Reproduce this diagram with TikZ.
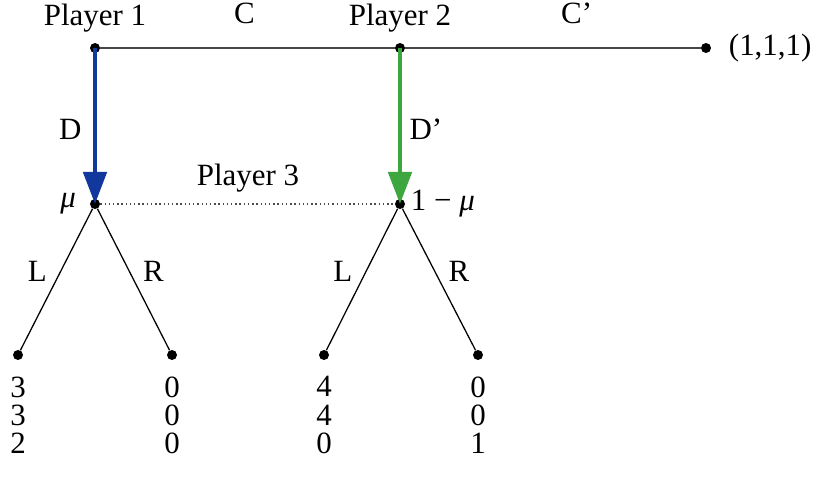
\documentclass[tikz,border=0pt]{standalone}
\usepackage{fontspec}
\setmainfont{Liberation Serif}
\usetikzlibrary{arrows.meta,positioning}
\definecolor{MoveBlue}{RGB}{18,56,158}
\definecolor{MoveGreen}{RGB}{62,166,62}
\definecolor{LineGray}{RGB}{70,70,70}
\tikzset{
  dot/.style={circle,fill=black,inner sep=0pt,minimum size=0.25cm},
  branch/.style={draw=black,line width=0.9pt},
  topline/.style={draw=LineGray,line width=1.2pt},
  movearrow/.style={-{Triangle[length=0.8cm,width=0.58cm]},line width=3pt},
  infoset/.style={draw=black!70,dotted,line width=1pt},
  lab/.style={inner sep=1pt},
  payoff/.style={align=center,inner sep=0pt,font=\fontsize{22}{20}\selectfont},
}

\begin{document}
\begin{tikzpicture}[x=0.025cm,y=-0.025cm,font=\fontsize{22}{26}\selectfont]
  \useasboundingbox (0,0) rectangle (817,487);
  % decision nodes
  \node[dot] (p1) at (95,48) {};
  \node[dot] (p2) at (400,48) {};
  \node[dot] (out) at (706,48) {};
  \node[dot] (q1) at (95,204) {};
  \node[dot] (q2) at (400,204) {};
  % terminal nodes
  \node[dot] (t1) at (18,355) {};
  \node[dot] (t2) at (172,355) {};
  \node[dot] (t3) at (324,355) {};
  \node[dot] (t4) at (478,355) {};
  % player names
  \node[lab] (name1) at (95,18) {Player 1};
  \node[lab] (name2) at (400,18) {Player 2};
  \node[lab] (name3) at (248,178) {Player 3};
  \node[lab,right=0.4cm of out] (outpay) {(1,1,1)};
  \node[lab,left=0.3cm of q1] (belief1) {\itshape μ};
  \node[lab,right=0.1cm of q2] (belief2) {1 − {\itshape μ}};
  % moves
  \draw[topline] (p1) -- node[lab,pos=0.49,above=0.55cm] {C} (p2);
  \draw[topline] (p2) -- node[lab,pos=0.58,above=0.55cm] {C’} (out);
  \draw[movearrow,MoveBlue] (p1.center) -- node[lab,left=0.25cm,pos=0.52,text=black] {D} (q1.center);
  \draw[movearrow,MoveGreen] (p2.center) -- node[lab,right=0.15cm,pos=0.52,text=black] {D’} (q2.center);
  \draw[infoset] (q1) -- (q2);
  \draw[branch] (q1) -- node[lab,pos=0.44,left=0.3cm] {L} (t1);
  \draw[branch] (q1) -- node[lab,pos=0.44,right=0.3cm] {R} (t2);
  \draw[branch] (q2) -- node[lab,pos=0.44,left=0.3cm] {L} (t3);
  \draw[branch] (q2) -- node[lab,pos=0.44,right=0.3cm] {R} (t4);
  % payoffs
  \node[payoff,below=0.4cm of t1] (pay1) {3\\3\\2};
  \node[payoff,below=0.4cm of t2] (pay2) {0\\0\\0};
  \node[payoff,below=0.4cm of t3] (pay3) {4\\4\\0};
  \node[payoff,below=0.4cm of t4] (pay4) {0\\0\\1};
\end{tikzpicture}
\end{document}
